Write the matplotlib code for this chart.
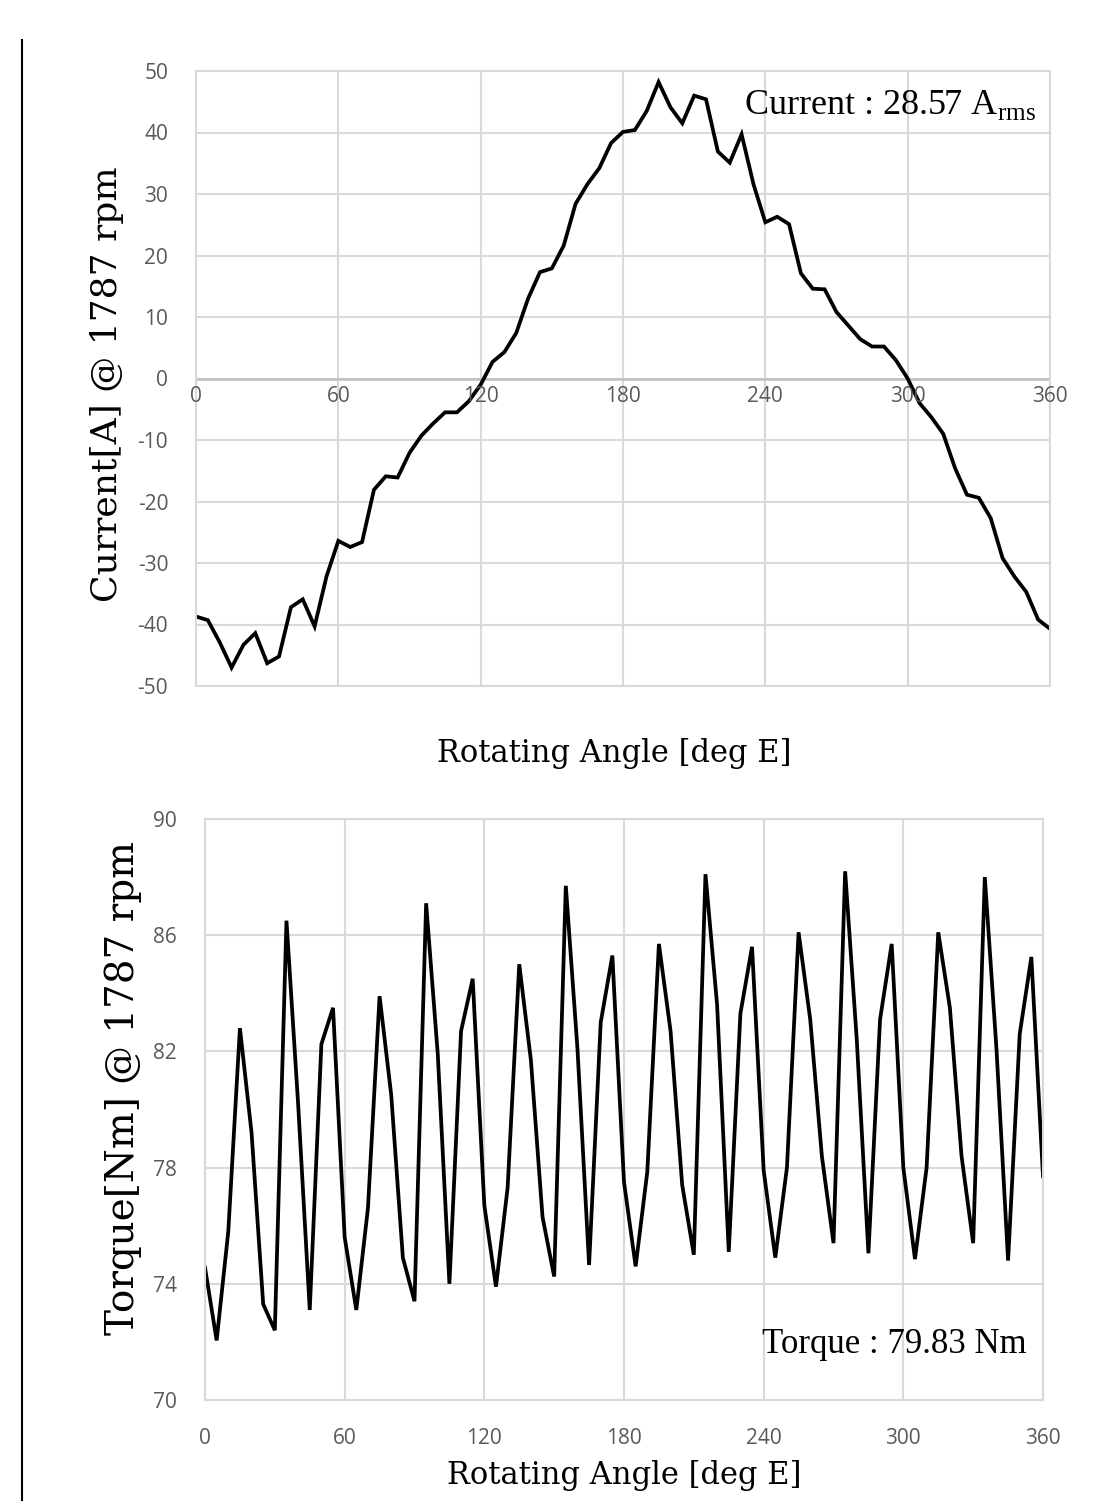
import matplotlib
matplotlib.use("Agg")
import matplotlib.pyplot as plt
import numpy as np

plt.rcParams["axes.unicode_minus"] = False

angle = list(range(0, 361, 5))

current = [-38.7, -39.3, -42.9, -47.0, -43.3, -41.4, -46.3, -45.2, -37.2, -35.9,
           -40.3, -32.2, -26.4, -27.4, -26.6, -18.1, -15.9, -16.1, -12.1, -9.3,
           -7.3, -5.5, -5.5, -3.7, -1.0, 2.7, 4.3, 7.4, 13.0, 17.3,
           17.9, 21.6, 28.4, 31.6, 34.2, 38.3, 40.1, 40.4, 43.5, 48.2,
           44.1, 41.5, 46.0, 45.4, 36.9, 35.1, 39.7, 31.6, 25.4, 26.3,
           25.1, 17.1, 14.6, 14.5, 10.8, 8.6, 6.4, 5.2, 5.2, 3.0,
           0.0, -4.0, -6.3, -9.0, -14.6, -18.9, -19.4, -22.7, -29.2, -32.2,
           -34.7, -39.2, -40.7]

torque = [74.56, 72.05, 75.8, 82.8, 79.2, 73.3, 72.4, 86.5, 80.2, 73.1,
          82.25, 83.5, 75.6, 73.1, 76.6, 83.9, 80.5, 74.9, 73.4, 87.1,
          81.9, 74.0, 82.7, 84.5, 76.7, 73.9, 77.3, 85.0, 81.7, 76.3,
          74.25, 87.7, 82.1, 74.65, 83.0, 85.3, 77.5, 74.6, 77.85, 85.7,
          82.7, 77.4, 75.0, 88.1, 83.6, 75.1, 83.3, 85.6, 77.9, 74.9,
          78.0, 86.1, 83.1, 78.4, 75.4, 88.2, 82.4, 75.05, 83.1, 85.7,
          78.0, 74.85, 78.0, 86.1, 83.5, 78.4, 75.4, 88.0, 82.1, 74.8,
          82.6, 85.25, 77.7]

x_ticks = [0, 60, 120, 180, 240, 300, 360]
cur_ticks = list(range(-50, 51, 10))
trq_ticks = [70, 74, 78, 82, 86, 90]

W, H = 1100, 1507
fig = plt.figure(figsize=(W / 100, H / 100), dpi=100)

GRID = "#d9d9d9"
TICKC = "#595959"
tick_font = "Open Sans"
lab_font = "DejaVu Serif"
ann_font = "Liberation Serif"
TS = 15


def ax_rect(l, t, r, b):
    return [l / W, 1 - b / H, (r - l) / W, (b - t) / H]


# ---------- Top: current ----------
ax1 = fig.add_axes(ax_rect(196, 71, 1050, 686))
ax1.plot(angle, current, color="black", lw=2.7, solid_joinstyle="miter")
ax1.set_xlim(0, 360)
ax1.set_ylim(-50, 50)
ax1.set_yticks(cur_ticks)
ax1.set_xticks(x_ticks)
ax1.grid(True, color=GRID, lw=1.5)
ax1.set_axisbelow(True)
for s in ax1.spines.values():
    s.set_color(GRID)
    s.set_linewidth(1.5)
ax1.axhline(0, color="#bfbfbf", lw=1.8, zorder=1)
ax1.tick_params(axis="both", length=0, labelsize=TS, labelcolor=TICKC)
ax1.tick_params(axis="y", pad=20)
for lab in ax1.get_yticklabels():
    lab.set_fontfamily(tick_font)
ax1.set_xticklabels([])
for xv in x_ticks:
    ax1.text(xv, -1.3, str(xv), ha="center", va="top", fontsize=TS,
             color=TICKC, family=tick_font)
ax1.set_ylabel("Current[A] @ 1787 rpm", family=lab_font, fontsize=26)
ax1.yaxis.set_label_coords(-0.084, 0.49)
ax1.text(0.49, -0.085, "Rotating Angle [deg E]", transform=ax1.transAxes,
         ha="center", va="top", family=lab_font, fontsize=22)
ax1.text(0.984, 0.945, r"Current : 28.57 A$_{\mathregular{rms}}$",
         transform=ax1.transAxes, ha="right", va="center",
         family=ann_font, fontsize=26)

# ---------- Bottom: torque ----------
ax2 = fig.add_axes(ax_rect(205, 819, 1043, 1400))
ax2.plot(angle, torque, color="black", lw=2.7, solid_joinstyle="miter")
ax2.set_xlim(0, 360)
ax2.set_ylim(70, 90)
ax2.set_yticks(trq_ticks)
ax2.set_xticks(x_ticks)
ax2.grid(True, color=GRID, lw=1.5)
ax2.set_axisbelow(True)
for s in ax2.spines.values():
    s.set_color(GRID)
    s.set_linewidth(1.5)
ax2.tick_params(axis="both", length=0, labelsize=TS, labelcolor=TICKC)
ax2.tick_params(axis="y", pad=20)
ax2.tick_params(axis="x", pad=20)
for lab in ax2.get_yticklabels() + ax2.get_xticklabels():
    lab.set_fontfamily(tick_font)
ax2.set_ylabel("Torque[Nm] @ 1787 rpm", family=lab_font, fontsize=28)
ax2.yaxis.set_label_coords(-0.075, 0.537)
ax2.set_xlabel("Rotating Angle [deg E]", family=lab_font, fontsize=22, labelpad=8)
ax2.text(0.98, 0.095, "Torque : 79.83 Nm", transform=ax2.transAxes,
         ha="right", va="center", family=ann_font, fontsize=25)

# left border line
fig.add_artist(plt.Line2D([22 / W, 22 / W], [1 - 40 / H, 1 - 1500 / H],
                          color="black", lw=1.5))

fig.savefig("out.png", dpi=100)
